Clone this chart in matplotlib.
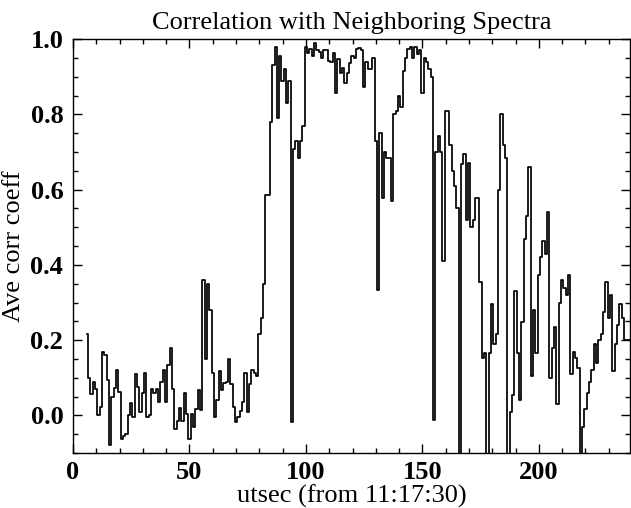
import numpy as np
import matplotlib
matplotlib.use('Agg')
import matplotlib.pyplot as plt
from matplotlib.ticker import MultipleLocator

plt.rcParams['font.family'] = ['Liberation Serif', 'DejaVu Serif']

# utsec of first sample, one sample per second
t_start = 6

# average correlation coefficient in rows of ten seconds
corr_06 = [0.216, 0.10, 0.057, 0.09, 0.07, 0.0, 0.022, 0.17, 0.16, 0.095]
corr_16 = [-0.078, 0.05, 0.073, 0.12, 0.063, -0.062, -0.054, -0.048, 0.0, 0.032]
corr_26 = [-0.005, 0.11, 0.075, 0.01, 0.06, 0.113, -0.005, 0.0, 0.07, 0.06]
corr_36 = [0.07, 0.036, 0.09, 0.12, 0.036, 0.133, 0.18, 0.07, -0.036, -0.014]
corr_46 = [0.02, -0.014, 0.06, 0.005, -0.063, 0.005, -0.03, 0.018, 0.068, 0.015]
corr_56 = [0.36, 0.149, 0.35, 0.28, 0.114, -0.005, 0.04, 0.117, 0.068, 0.086]
corr_66 = [0.088, 0.15, 0.085, 0.022, -0.018, -0.005, 0.013, 0.036, 0.113, 0.009]
corr_76 = [0.085, 0.12, 0.113, 0.104, 0.216, 0.26, 0.35, 0.585, 0.585, 0.78]
corr_86 = [0.93, 0.98, 0.79, 0.955, 0.89, 0.92, 0.83, 0.89, -0.018, 0.707]
corr_96 = [0.73, 0.685, 0.73, 0.77, 0.98, 0.964, 0.973, 0.955, 0.99, 0.97]
corr_106 = [0.965, 0.95, 0.97, 0.97, 0.943, 0.94, 0.964, 0.856, 0.946, 0.91]
corr_116 = [0.923, 0.883, 0.91, 0.937, 0.955, 0.95, 0.973, 0.977, 0.97, 0.874]
corr_126 = [0.94, 0.92, 0.92, 0.95, 0.73, 0.333, 0.75, 0.577, 0.70, 0.685]
corr_136 = [0.685, 0.57, 0.80, 0.81, 0.85, 0.82, 0.915, 0.95, 0.973, 0.98]
corr_146 = [0.95, 0.98, 0.96, 0.97, 0.856, 0.95, 0.94, 0.92, 0.90, -0.013]
corr_156 = [0.70, 0.743, 0.70, 0.41, 0.81, 0.81, 0.72, 0.65, 0.61, 0.55]
corr_166 = [-0.12, 0.667, 0.694, 0.52, 0.67, 0.50, 0.52, 0.577, 0.577, 0.356]
corr_176 = [0.153, 0.167, -0.12, 0.167, 0.297, 0.19, 0.216, 0.60, 0.80, 0.72]
corr_186 = [0.685, -0.12, 0.009, 0.054, 0.33, 0.167, 0.04, 0.248, 0.47, 0.53]
corr_196 = [0.66, 0.104, 0.28, 0.167, 0.374, 0.42, 0.464, 0.43, 0.54, 0.10]
corr_206 = [0.18, 0.235, 0.03, 0.30, 0.36, 0.34, 0.32, 0.374, 0.11, 0.17]
corr_216 = [0.153, 0.126, -0.12, -0.03, 0.018, 0.06, 0.09, 0.12, 0.19, 0.14]
corr_226 = [0.2, 0.216, 0.275, 0.356, 0.26, 0.32, 0.117, 0.19, 0.24, 0.297]
corr_236 = [0.26, 0.2, 0.2, 0.2]

corr = (corr_06 + corr_16 + corr_26 + corr_36 + corr_46 + corr_56 + corr_66
        + corr_76 + corr_86 + corr_96 + corr_106 + corr_116 + corr_126
        + corr_136 + corr_146 + corr_156 + corr_166 + corr_176 + corr_186
        + corr_196 + corr_206 + corr_216 + corr_226 + corr_236)
utsec = np.arange(t_start, t_start + len(corr))

fig = plt.figure(figsize=(6.31, 5.08), dpi=100)
ax = fig.add_axes([0.1157, 0.108, 0.8823, 0.815])

# histogram-style line like IDL psym=10
ax.step(utsec, corr, where='mid', color='black', lw=1.25)

ax.set_xlim(0, 239)
ax.set_ylim(-0.1, 1.0)
ax.set_xticks([0, 50, 100, 150, 200])
ax.set_yticks([0.0, 0.2, 0.4, 0.6, 0.8, 1.0])
ax.set_yticklabels(['0.0', '0.2', '0.4', '0.6', '0.8', '1.0'])
ax.xaxis.set_minor_locator(MultipleLocator(10))
ax.yaxis.set_minor_locator(MultipleLocator(0.05))
ax.tick_params(which='both', direction='in', top=True, right=True, width=1.0)
ax.tick_params(which='major', length=6.5, labelsize=19)
ax.tick_params(axis='x', which='major', pad=6)
ax.tick_params(axis='y', which='major', pad=7)
ax.tick_params(which='minor', length=3.6)
for lab in ax.get_xticklabels() + ax.get_yticklabels():
    lab.set_fontweight('bold')
for sp in ax.spines.values():
    sp.set_linewidth(1.0)

ax.set_xlabel('utsec (from 11:17:30)', fontsize=19, labelpad=0)
ax.set_ylabel('Ave corr coeff', fontsize=19, labelpad=4)
ax.set_title('Correlation with Neighboring Spectra', fontsize=19, pad=7.5)

fig.savefig('out.png', dpi=100)
